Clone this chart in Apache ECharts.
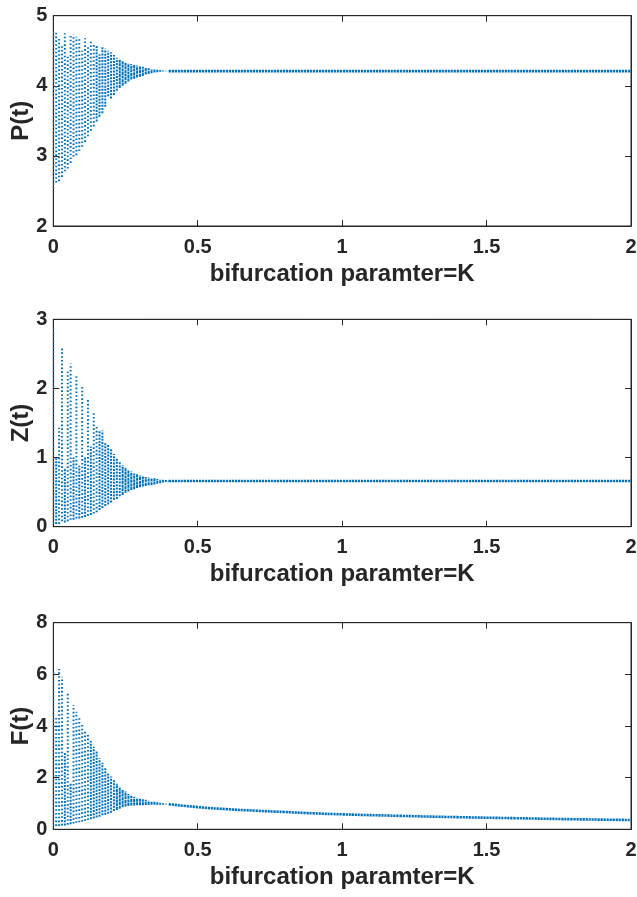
<!DOCTYPE html>
<html>
<head>
<meta charset="utf-8">
<script src="https://cdn.jsdelivr.net/npm/echarts@6/dist/echarts.min.js"></script>
<style>html,body{margin:0;padding:0;background:#fff}#c{width:637px;height:897px}</style>
</head>
<body>
<div id="c"></div>
<script>
// bifurcation parameter values of the oscillating columns
const K_osc = [0,0.01,0.02,0.03,0.04,0.05,0.06,0.07,0.08,0.09,0.10,0.11,0.12,0.13,0.14,0.15,0.16,0.17,0.18,0.19,0.20,
  0.21,0.22,0.23,0.24,0.25,0.26,0.27,0.28,0.29,0.30,0.31,0.32,0.33,0.34,0.35,0.36,0.37,0.38,0.39,0.40];
// P(t): max / min per column
const P_hi = [4.79,4.79,4.67,4.58,4.75,4.45,4.74,4.73,4.70,4.69,4.50,4.68,4.55,4.64,4.60,4.58,4.45,4.55,4.53,4.50,4.48,
  4.44,4.40,4.37,4.36,4.34,4.32,4.31,4.30,4.29,4.28,4.27,4.26,4.25,4.24,4.235,4.23,4.225,4.22,4.215,4.213];
const P_lo = [2.53,2.62,2.64,2.70,2.78,2.82,2.90,2.99,3.01,3.07,3.13,3.20,3.28,3.36,3.42,3.49,3.56,3.61,3.70,3.85,3.82,
  3.87,3.93,3.97,4.00,4.03,4.06,4.09,4.10,4.12,4.13,4.14,4.16,4.17,4.18,4.19,4.195,4.20,4.205,4.207,4.208];
// Z(t)
const Z_hi = [2.87,0.99,1.43,2.60,0.85,2.24,2.36,1.00,2.20,0.88,2.03,1.00,1.85,1.16,1.66,1.47,1.38,1.39,1.21,1.18,1.12,
  1.05,0.99,0.94,0.89,0.86,0.82,0.80,0.77,0.76,0.74,0.73,0.72,0.71,0.705,0.70,0.69,0.685,0.68,0.675,0.67];
const Z_lo = [0.04,0.04,0.04,0.08,0.06,0.08,0.10,0.10,0.12,0.12,0.13,0.14,0.16,0.17,0.19,0.21,0.24,0.27,0.30,0.32,0.35,
  0.39,0.40,0.44,0.46,0.49,0.51,0.53,0.54,0.56,0.57,0.58,0.59,0.60,0.60,0.61,0.62,0.63,0.64,0.645,0.65];
// F(t)
const F_hi = [6.15,4.36,6.21,5.91,3.00,5.33,1.80,4.81,4.55,4.30,4.11,3.85,3.65,3.42,3.20,3.01,2.75,2.58,2.36,2.17,2.04,
  1.91,1.76,1.65,1.52,1.46,1.37,1.30,1.26,1.22,1.19,1.16,1.14,1.11,1.09,1.07,1.05,1.03,1.01,0.99,0.97];
const F_lo = [0.13,0.13,0.13,0.15,0.15,0.18,0.20,0.22,0.25,0.27,0.30,0.33,0.36,0.39,0.42,0.46,0.49,0.54,0.56,0.60,0.64,
  0.71,0.75,0.80,0.85,0.88,0.90,0.92,0.92,0.93,0.93,0.93,0.94,0.94,0.95,0.95,0.95,0.95,0.95,0.96,0.96];
// steady-state branches
const K_steady = [0.40,0.50,0.60,0.70,0.80,0.90,1.00,1.20,1.40,1.60,1.80,2.00];
const P_steady = [4.21,4.21,4.21,4.21,4.21,4.21,4.21,4.21,4.21,4.21,4.21,4.21];
const Z_steady = [0.66,0.66,0.66,0.66,0.66,0.66,0.66,0.66,0.66,0.66,0.66,0.66];
const F_steady = [0.97,0.86,0.78,0.72,0.67,0.62,0.58,0.52,0.47,0.43,0.39,0.36];
// axes
const xTicks = [0,0.5,1,1.5,2];
const panels = [
  {name:'P(t)', min:2, max:5, interval:1, hi:P_hi, lo:P_lo, steady:P_steady},
  {name:'Z(t)', min:0, max:3, interval:1, hi:Z_hi, lo:Z_lo, steady:Z_steady},
  {name:'F(t)', min:0, max:8, interval:2, hi:F_hi, lo:F_lo, steady:F_steady}
];
const grids = [
  {left:53.3, top:15.7, width:577.7, height:210.3},
  {left:53.3, top:319.3, width:577.7, height:207.4},
  {left:53.3, top:622.7, width:577.7, height:206.6}
];

const AX = '#262626';
const BLUE = '#0072BD';
const FONT = 'Liberation Sans, Arial, Helvetica, sans-serif';
const option = {animation:false, grid:[], xAxis:[], yAxis:[], series:[]};

panels.forEach((p, i) => {
  option.grid.push(Object.assign({show:true, borderColor:AX, borderWidth:1, backgroundColor:'#fff',
    containLabel:false, outerBoundsMode:'none'}, grids[i]));
  const xBase = {gridIndex:i, type:'value', min:0, max:2, interval:0.5,
    axisLine:{show:true, onZero:false, lineStyle:{color:AX, width:1}},
    axisTick:{show:true, inside:true, length:6, lineStyle:{color:AX}},
    splitLine:{show:false}};
  option.xAxis.push(Object.assign({}, xBase, {position:'bottom',
    name:'bifurcation paramter=K', nameLocation:'middle', nameGap:36, nameMoveOverlap:false,
    nameTextStyle:{fontFamily:FONT, fontWeight:'bold', fontSize:24, color:AX},
    axisLabel:{show:true, margin:11, fontFamily:FONT, fontWeight:'bold', fontSize:20, color:AX,
      formatter: v => xTicks.indexOf(v) >= 0 ? String(v) : ''}}));
  option.xAxis.push(Object.assign({}, xBase, {position:'top', axisLabel:{show:false}}));
  const yBase = {gridIndex:i, type:'value', min:p.min, max:p.max, interval:p.interval,
    axisLine:{show:true, onZero:false, lineStyle:{color:AX, width:1}},
    axisTick:{show:true, inside:true, length:6, lineStyle:{color:AX}},
    splitLine:{show:false}};
  option.yAxis.push(Object.assign({}, yBase, {position:'left',
    name:p.name, nameLocation:'middle', nameGap:20, nameMoveOverlap:false,
    nameTextStyle:{fontFamily:FONT, fontWeight:'bold', fontSize:24, color:AX},
    axisLabel:{show:true, margin:6, fontFamily:FONT, fontWeight:'bold', fontSize:20, color:AX}}));
  option.yAxis.push(Object.assign({}, yBase, {position:'right', axisLabel:{show:false}}));

  const colData = K_osc.map((k, j) => [k, p.lo[j], p.hi[j]]);
  option.series.push({
    type:'custom', xAxisIndex:2*i, yAxisIndex:2*i, clip:true, data:colData,
    renderItem: (params, api) => {
      const a = api.coord([api.value(0), api.value(1)]);
      const b = api.coord([api.value(0), api.value(2)]);
      const h = Math.abs(a[1]-b[1]);
      return {type:'line', shape:{x1:a[0], y1:a[1], x2:b[0], y2:b[1]},
        style:{stroke:BLUE, lineWidth:2.0, lineDash: h > 80 ? [1.6,2.2] : (h > 30 ? [2,1.2] : [3,0.6])}};
    }
  });
  option.series.push({
    type:'line', xAxisIndex:2*i, yAxisIndex:2*i, smooth:true, symbol:'none',
    data: K_steady.map((k, j) => [k, p.steady[j]]),
    lineStyle:{color:BLUE, width:2.6, type:[2.2,0.8]}
  });
});

const chart = echarts.init(document.getElementById('c'), null, {renderer:'canvas'});
chart.setOption(option);
</script>
</body>
</html>
